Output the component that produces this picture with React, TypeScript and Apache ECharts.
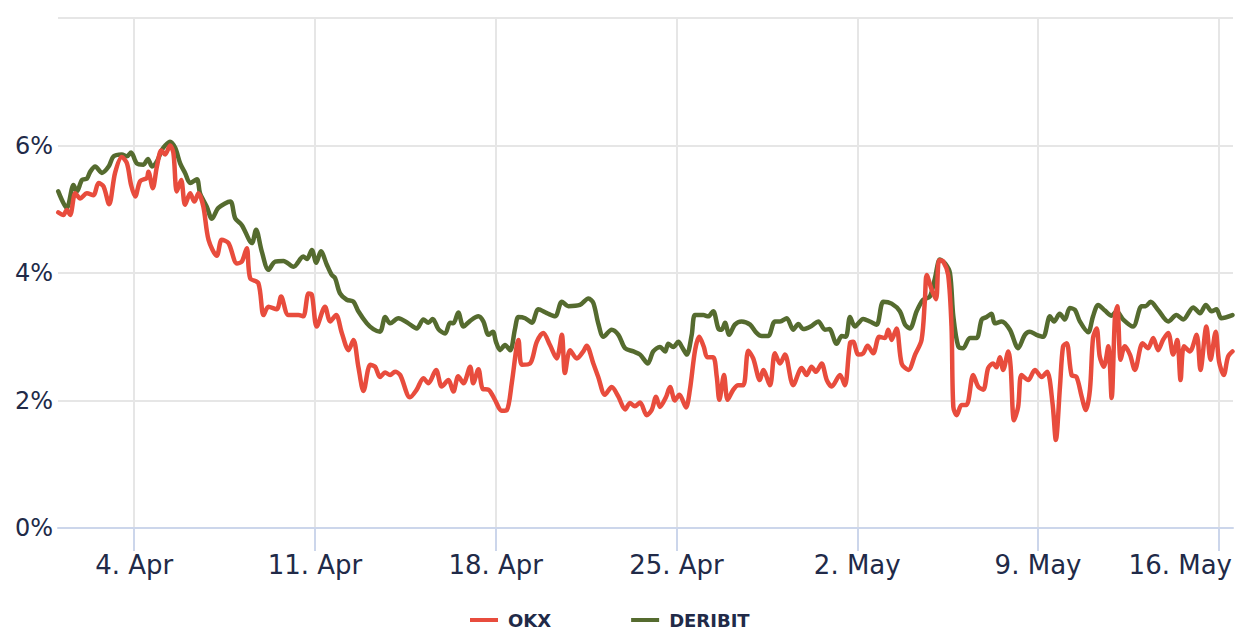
import React, { useEffect, useRef } from "react";
import * as echarts from "echarts";

// x positions are days since 1 Apr 00:00
const tickDays = [3, 10, 17, 24, 31, 38, 45];
const tickLabels = ["4. Apr", "11. Apr", "18. Apr", "25. Apr", "2. May", "9. May", "16. May"];

const derDays = [
  0.06, 0.39, 0.65, 0.78, 0.98, 1.17, 1.3, 1.49, 1.75, 2.01,
  2.2, 2.52, 2.72, 2.88, 3.1, 3.36, 3.53, 3.69, 3.88, 4.07,
  4.2, 4.39, 4.59, 4.78, 4.97, 5.17, 5.43, 5.55, 5.81, 6.01,
  6.26, 6.72, 6.91, 7.17, 7.56, 7.72, 7.94, 8.2, 8.46, 8.78,
  9.17, 9.55, 9.69, 9.88, 10.05, 10.23, 10.46, 10.65, 10.78, 10.97,
  11.23, 11.49, 11.68, 12.01, 12.26, 12.52, 12.72, 12.91, 13.23, 13.62,
  13.94, 14.2, 14.39, 14.56, 14.78, 15.04, 15.23, 15.36, 15.55, 15.75,
  16.01, 16.33, 16.52, 16.72, 16.89, 17.01, 17.17, 17.36, 17.56, 17.75,
  17.88, 18.14, 18.4, 18.65, 18.98, 19.3, 19.56, 19.81, 20.26, 20.59,
  20.78, 20.97, 21.17, 21.49, 21.75, 22.01, 22.33, 22.59, 22.89, 23.1,
  23.36, 23.56, 23.68, 23.88, 24.07, 24.24, 24.4, 24.59, 24.72, 25.04,
  25.23, 25.42, 25.62, 25.75, 25.88, 26.04, 26.26, 26.52, 26.85, 27.1,
  27.3, 27.55, 27.81, 28.01, 28.27, 28.52, 28.72, 28.91, 29.23, 29.49,
  29.75, 29.92, 30.2, 30.4, 30.56, 30.72, 30.91, 31.23, 31.49, 31.75,
  32.01, 32.33, 32.65, 32.85, 33.04, 33.3, 33.55, 33.81, 34.01, 34.2,
  34.4, 34.59, 34.72, 34.91, 35.1, 35.36, 35.62, 35.82, 36.01, 36.2,
  36.33, 36.59, 36.91, 37.23, 37.49, 37.68, 37.94, 38.2, 38.46, 38.62,
  38.84, 39.04, 39.23, 39.43, 39.62, 39.94, 40.13, 40.33, 40.59, 40.85,
  41.04, 41.3, 41.68, 42.01, 42.17, 42.36, 42.65, 43.04, 43.36, 43.62,
  44.01, 44.27, 44.5, 44.72, 44.91, 45.1, 45.53,
];
const derValues = [
  5.28, 5.02, 5.38, 5.28, 5.46, 5.48, 5.59, 5.67, 5.57, 5.67,
  5.83, 5.86, 5.83, 5.89, 5.72, 5.7, 5.79, 5.67, 5.75, 5.93,
  6.0, 6.06, 5.96, 5.72, 5.57, 5.41, 5.47, 5.25, 5.04, 4.85,
  5.02, 5.12, 4.86, 4.75, 4.47, 4.68, 4.34, 4.05, 4.18, 4.19,
  4.1, 4.26, 4.22, 4.36, 4.16, 4.34, 4.13, 3.97, 3.92, 3.68,
  3.58, 3.55, 3.4, 3.21, 3.12, 3.08, 3.31, 3.21, 3.29, 3.21,
  3.13, 3.27, 3.22, 3.28, 3.12, 3.05, 3.22, 3.21, 3.38, 3.16,
  3.25, 3.32, 3.24, 3.03, 3.08, 2.92, 2.79, 2.87, 2.79, 3.13,
  3.31, 3.29, 3.22, 3.43, 3.37, 3.32, 3.55, 3.48, 3.5, 3.6,
  3.53, 3.21, 3.0, 3.11, 3.03, 2.82, 2.77, 2.72, 2.58, 2.77,
  2.84, 2.77, 2.89, 2.84, 2.92, 2.82, 2.72, 3.03, 3.34, 3.34,
  3.32, 3.4, 3.13, 3.11, 3.22, 3.03, 3.19, 3.24, 3.19, 3.06,
  3.01, 3.01, 3.24, 3.24, 3.29, 3.11, 3.2, 3.12, 3.17, 3.24,
  3.11, 3.12, 2.89, 3.01, 3.0, 3.31, 3.16, 3.28, 3.24, 3.19,
  3.55, 3.52, 3.4, 3.19, 3.13, 3.4, 3.58, 3.63, 3.92, 4.21,
  4.15, 4.0, 3.32, 2.85, 2.82, 2.98, 2.98, 3.27, 3.31, 3.36,
  3.21, 3.24, 3.11, 2.82, 3.03, 3.08, 3.03, 3.0, 3.32, 3.24,
  3.36, 3.27, 3.45, 3.42, 3.24, 3.07, 3.32, 3.5, 3.41, 3.33,
  3.4, 3.27, 3.16, 3.48, 3.48, 3.55, 3.42, 3.24, 3.34, 3.27,
  3.46, 3.37, 3.5, 3.4, 3.43, 3.29, 3.34,
];

const okxDays = [
  0.06, 0.26, 0.39, 0.52, 0.72, 0.91, 1.17, 1.42, 1.62, 1.81,
  2.03, 2.26, 2.52, 2.72, 2.88, 3.04, 3.23, 3.49, 3.55, 3.72,
  3.88, 4.05, 4.2, 4.39, 4.52, 4.65, 4.82, 4.97, 5.17, 5.33,
  5.49, 5.68, 5.88, 6.2, 6.39, 6.65, 6.98, 7.17, 7.36, 7.49,
  7.81, 8.01, 8.2, 8.52, 8.69, 8.97, 9.36, 9.55, 9.75, 9.88,
  10.07, 10.39, 10.59, 10.82, 11.04, 11.3, 11.49, 11.68, 11.88, 12.14,
  12.33, 12.52, 12.72, 12.91, 13.1, 13.3, 13.68, 13.94, 14.2, 14.39,
  14.69, 14.91, 15.17, 15.36, 15.55, 15.75, 16.01, 16.13, 16.33, 16.5,
  16.72, 16.97, 17.23, 17.43, 17.62, 17.81, 17.88, 18.01, 18.33, 18.59,
  18.84, 19.1, 19.36, 19.56, 19.68, 19.88, 20.14, 20.39, 20.52, 20.78,
  20.97, 21.23, 21.49, 21.75, 22.01, 22.2, 22.39, 22.59, 22.85, 23.04,
  23.21, 23.36, 23.59, 23.75, 23.94, 24.11, 24.2, 24.37, 24.52, 24.72,
  24.88, 25.06, 25.19, 25.42, 25.56, 25.66, 25.84, 25.98, 26.2, 26.39,
  26.59, 26.78, 26.97, 27.23, 27.36, 27.62, 27.81, 28.01, 28.2, 28.52,
  28.85, 29.04, 29.23, 29.4, 29.62, 29.82, 30.01, 30.33, 30.52, 30.72,
  30.84, 31.04, 31.23, 31.4, 31.62, 31.85, 32.07, 32.2, 32.33, 32.52,
  32.72, 32.98, 33.24, 33.49, 33.62, 33.69, 33.88, 34.05, 34.17, 34.33,
  34.52, 34.65, 34.72, 34.85, 35.04, 35.23, 35.49, 35.68, 35.88, 36.07,
  36.26, 36.39, 36.52, 36.65, 36.85, 36.94, 37.07, 37.23, 37.36, 37.62,
  37.88, 38.14, 38.35, 38.56, 38.69, 38.85, 38.97, 39.11, 39.3, 39.49,
  39.69, 39.85, 40.01, 40.13, 40.27, 40.39, 40.55, 40.72, 40.85, 40.98,
  41.07, 41.2, 41.36, 41.56, 41.75, 42.05, 42.26, 42.46, 42.65, 42.84,
  43.04, 43.23, 43.39, 43.52, 43.65, 43.88, 44.14, 44.29, 44.52, 44.68,
  44.88, 45.01, 45.19, 45.36, 45.53,
];
const okxValues = [
  4.95, 4.91, 4.99, 4.91, 5.25, 5.17, 5.25, 5.22, 5.41, 5.36,
  5.08, 5.57, 5.82, 5.72, 5.38, 5.2, 5.44, 5.49, 5.59, 5.33,
  5.67, 5.92, 5.86, 6.0, 5.88, 5.28, 5.46, 5.07, 5.25, 5.12,
  5.25, 5.04, 4.52, 4.27, 4.52, 4.47, 4.15, 4.18, 4.39, 3.92,
  3.84, 3.34, 3.47, 3.43, 3.63, 3.34, 3.34, 3.32, 3.68, 3.66,
  3.16, 3.47, 3.24, 3.34, 3.06, 2.79, 2.95, 2.53, 2.15, 2.56,
  2.53, 2.37, 2.44, 2.4, 2.45, 2.4, 2.05, 2.17, 2.35, 2.27,
  2.48, 2.22, 2.32, 2.14, 2.38, 2.27, 2.53, 2.27, 2.49, 2.18,
  2.17, 2.01, 1.84, 1.85, 2.27, 2.85, 2.95, 2.56, 2.58, 2.92,
  3.06, 2.87, 2.66, 3.03, 2.43, 2.79, 2.66, 2.77, 2.86, 2.58,
  2.37, 2.09, 2.21, 2.06, 1.86, 1.96, 1.91, 1.97, 1.77, 1.85,
  2.06, 1.9, 2.05, 2.21, 2.0, 2.09, 2.04, 1.89, 2.17, 2.79,
  3.0, 2.84, 2.68, 2.68, 2.37, 2.01, 2.4, 2.01, 2.17, 2.24,
  2.24, 2.78, 2.66, 2.32, 2.48, 2.24, 2.74, 2.58, 2.72, 2.24,
  2.51, 2.4, 2.53, 2.45, 2.58, 2.32, 2.22, 2.4, 2.24, 2.9,
  2.92, 2.72, 2.74, 2.86, 2.74, 3.0, 2.98, 3.11, 2.95, 3.13,
  2.58, 2.48, 2.72, 2.95, 3.58, 3.97, 3.74, 3.59, 4.2, 4.18,
  3.97, 3.16, 1.9, 1.77, 1.93, 1.93, 2.4, 2.22, 2.17, 2.51,
  2.58, 2.52, 2.68, 2.48, 2.77, 2.53, 1.69, 1.9, 2.4, 2.32,
  2.48, 2.37, 2.45, 1.96, 1.38, 2.22, 2.85, 2.9, 2.4, 2.37,
  2.06, 1.85, 2.17, 2.98, 3.13, 2.69, 2.53, 2.85, 2.04, 3.32,
  3.48, 2.64, 2.85, 2.72, 2.48, 2.9, 2.82, 2.98, 2.79, 2.95,
  3.06, 2.72, 2.95, 2.32, 2.85, 2.77, 3.03, 2.48, 3.16, 2.64,
  3.08, 2.61, 2.4, 2.69, 2.77,
];

const FONT = "DejaVu Sans";
const TEXT = "#212a48";
const OKX_COLOR = "#e84c3d";
const DER_COLOR = "#556b2f";

export default function App() {
  const ref = useRef<HTMLDivElement>(null);
  useEffect(() => {
    document.body.style.margin = "0";
    const chart = echarts.init(ref.current as HTMLDivElement, null, { renderer: "svg" });
    const lastIdx = tickDays.length - 1;
    chart.setOption({
      animation: false,
      backgroundColor: "#ffffff",
      textStyle: { fontFamily: FONT },
      grid: { left: 58, right: 12, top: 18, bottom: 112, containLabel: false, outerBoundsMode: "none" },
      legend: {
        data: ["OKX", "DERIBIT"],
        left: 465,
        top: 606,
        icon: "rect",
        itemWidth: 28,
        itemHeight: 4,
        itemGap: 80,
        textStyle: { fontFamily: FONT, fontSize: 18, fontWeight: "bold", color: TEXT, padding: [0, 0, 0, 5] },
      },
      xAxis: {
        type: "value",
        min: 0.05,
        max: 45.55,
        axisLine: { show: true, lineStyle: { color: "#ccd6eb", width: 2 } },
        axisTick: { show: true, customValues: tickDays, length: 23, lineStyle: { color: "#ccd6eb", width: 2 } },
        axisLabel: {
          customValues: tickDays,
          formatter: (v: number) => {
            const i = tickDays.indexOf(Math.round(v));
            if (i < 0) return "";
            return i === lastIdx ? `{last|${tickLabels[i]}}` : tickLabels[i];
          },
          fontFamily: FONT,
          fontSize: 26,
          color: TEXT,
          margin: 24,
          hideOverlap: false,
          rich: {
            last: { fontFamily: FONT, fontSize: 26, color: TEXT, padding: [0, 77, 0, 0] },
          },
        },
        splitLine: { show: true, lineStyle: { color: "#e6e6e6", width: 2 } },
      },
      yAxis: {
        type: "value",
        min: 0,
        max: 8,
        interval: 2,
        axisLine: { show: false },
        axisTick: { show: false },
        axisLabel: {
          formatter: "{value}%",
          showMaxLabel: false,
          fontFamily: FONT,
          fontSize: 24,
          color: TEXT,
          margin: 5,
        },
        splitLine: { show: true, lineStyle: { color: "#e6e6e6", width: 2 } },
      },
      series: [
        {
          name: "OKX",
          type: "line",
          z: 3,
          data: okxDays.map((d, i) => [d, okxValues[i]]),
          showSymbol: false,
          smooth: 0.3,
          color: OKX_COLOR,
          lineStyle: { color: OKX_COLOR, width: 4.5, cap: "round", join: "round" },
          itemStyle: { color: OKX_COLOR },
        },
        {
          name: "DERIBIT",
          type: "line",
          z: 2,
          data: derDays.map((d, i) => [d, derValues[i]]),
          showSymbol: false,
          smooth: 0.3,
          color: DER_COLOR,
          lineStyle: { color: DER_COLOR, width: 4.5, cap: "round", join: "round" },
          itemStyle: { color: DER_COLOR },
        },
      ],
    });
    return () => chart.dispose();
  }, []);
  return <div ref={ref} style={{ width: 1245, height: 640 }} />;
}
